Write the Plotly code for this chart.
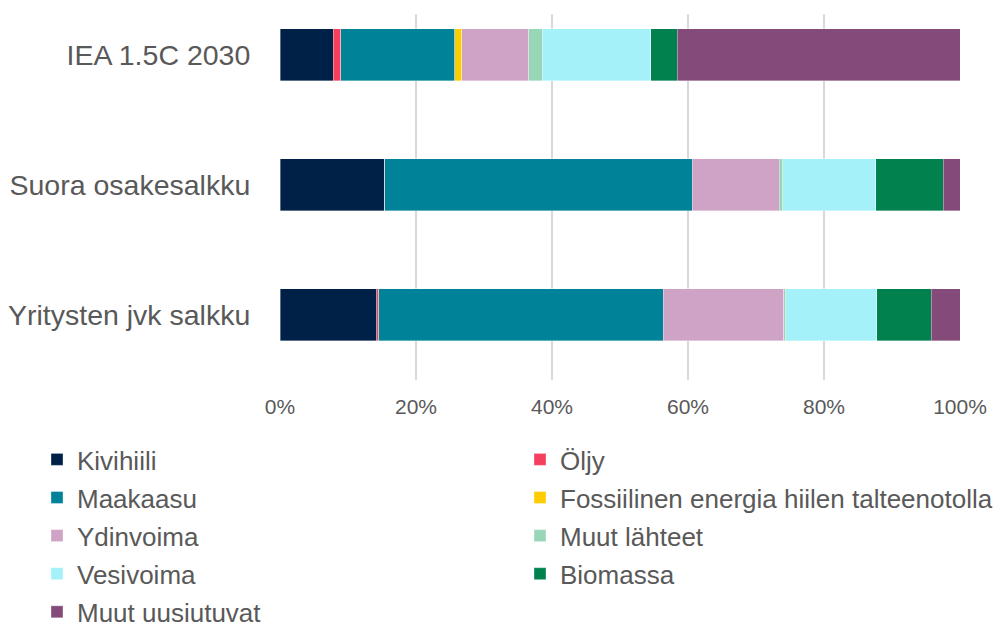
import plotly.graph_objects as go

categories = ["IEA 1.5C 2030", "Suora osakesalkku", "Yritysten jvk salkku"]

series_names = ["Kivihiili", "Öljy", "Maakaasu", "Fossiilinen energia hiilen talteenotolla",
                "Ydinvoima", "Muut lähteet", "Vesivoima", "Biomassa", "Muut uusiutuvat"]

kivihiili = [7.8, 15.4, 14.2]
oljy = [1.1, 0.0, 0.3]
maakaasu = [16.8, 45.2, 41.85]
fossiilinen_ccs = [1.0, 0.0, 0.0]
ydinvoima = [9.9, 12.8, 17.7]
muut_lahteet = [2.0, 0.5, 0.3]
vesivoima = [15.9, 13.7, 13.4]
biomassa = [3.9, 9.9, 8.05]
muut_uusiutuvat = [41.6, 2.5, 4.2]

series_values = [kivihiili, oljy, maakaasu, fossiilinen_ccs, ydinvoima,
                 muut_lahteet, vesivoima, biomassa, muut_uusiutuvat]

colors = ["#002147", "#F43F5E", "#008299", "#FFCC00", "#CFA3C6",
          "#98D6B8", "#A5F1FA", "#00814D", "#844A7A"]

# which of the two legend columns each series is listed in
legend_column = ["legend", "legend2", "legend", "legend2", "legend",
                 "legend2", "legend", "legend2", "legend"]

tick_vals = [0, 20, 40, 60, 80, 100]
tick_text = ["0%", "20%", "40%", "60%", "80%", "100%"]

FONT = "Liberation Sans, Arial, sans-serif"
GREY = "#595959"

fig = go.Figure()
for name, vals, col, lg in zip(series_names, series_values, colors, legend_column):
    fig.add_trace(go.Bar(
        y=categories, x=vals, name=name, orientation="h",
        marker=dict(color=col, line=dict(color="rgba(255,255,255,0.45)", width=0.8)),
        width=0.4, legend=lg, legendgroup=name,
    ))

legend_common = dict(orientation="v", xref="container", yref="container",
                     xanchor="left", yanchor="top", tracegroupgap=1.3,
                     font=dict(size=26, color=GREY, family=FONT),
                     traceorder="grouped", itemclick=False, bgcolor="rgba(0,0,0,0)")

fig.update_layout(
    barmode="stack",
    width=997, height=624,
    margin=dict(l=279.5, r=37, t=14, b=244, autoexpand=False),
    paper_bgcolor="white", plot_bgcolor="white",
    font=dict(family=FONT, color=GREY),
    xaxis=dict(range=[0, 100], tickvals=tick_vals, ticktext=tick_text,
               showgrid=True, gridcolor="#D9D9D9", gridwidth=2,
               zeroline=False, showline=False,
               tickfont=dict(size=21, color=GREY), ticks="outside", ticklen=8,
               tickcolor="rgba(0,0,0,0)"),
    yaxis=dict(type="category", categoryorder="array", categoryarray=categories,
               range=[2.5, -0.313], showgrid=False, zeroline=False, showline=False,
               tickfont=dict(size=28.5, color=GREY), ticks="outside", ticklen=23,
               tickcolor="rgba(0,0,0,0)"),
    legend=dict(x=37 / 997, y=1 - 436 / 624, **legend_common),
    legend2=dict(x=520 / 997, y=1 - 436 / 624, **legend_common),
    showlegend=True,
)

fig.write_html("out.html", config={"displayModeBar": False},
               post_script="document.body.style.margin='0';document.body.style.overflow='hidden';")
